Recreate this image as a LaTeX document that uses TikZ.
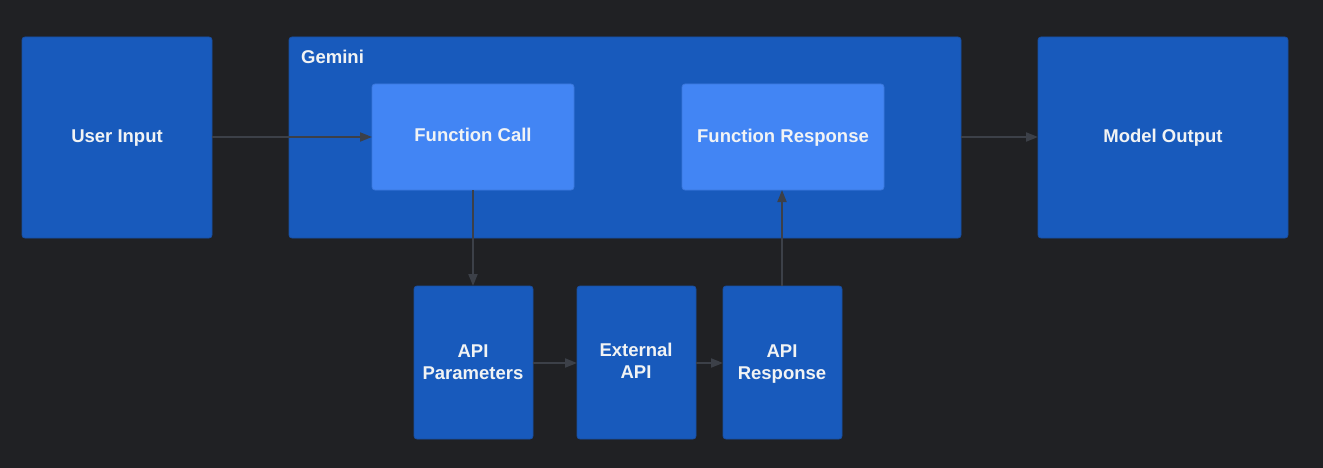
\documentclass[tikz,border=0pt]{standalone}
\usepackage{fontspec}
\setmainfont{Liberation Sans}
\usetikzlibrary{arrows.meta}
\definecolor{bgc}{HTML}{202124}
\definecolor{boxc}{HTML}{185ABC}
\definecolor{boxline}{HTML}{1A4FA0}
\definecolor{lightc}{HTML}{4285F4}
\definecolor{arrc}{HTML}{3C4048}
\definecolor{txtc}{HTML}{F1F3F4}
\tikzset{
  box/.style={fill=boxc, draw=boxline, line width=0.8pt, rounded corners=3pt},
  lbox/.style={fill=lightc, draw=lightc!90!black, line width=0.8pt, rounded corners=3pt},
  lbl/.style={text=txtc, font=\fontsize{18.5}{22}\selectfont\bfseries, align=center, inner sep=0pt},
  conn/.style={draw=arrc, line width=1.8pt, -{Triangle[length=12pt,width=9pt]}},
}
\begin{document}
\begin{tikzpicture}[x=1pt,y=-1pt]
\useasboundingbox (0,0) rectangle (1323,468);
\fill[bgc] (0,0) rectangle (1323,468);
% boxes
\draw[box] (22,37) rectangle (212,238);
\node[lbl] (ui) at (117,138) {User Input};
\coordinate (uiE) at (212,137);
\draw[box] (289,37) rectangle (961,238);
\node[lbl, anchor=west] (gem) at (301,57) {Gemini};
\coordinate (gemE) at (961,137);
\draw[lbox] (372,84) rectangle (574,190);
\node[lbl] (fc) at (473,135) {Function Call};
\coordinate (fcW) at (372,137);
\coordinate (fcS) at (473,190);
\draw[lbox] (682,84) rectangle (884,190);
\node[lbl] (fr) at (783,138) {Function Response};
\coordinate (frS) at (782,190);
\draw[box] (1038,37) rectangle (1288,238);
\node[lbl] (mo) at (1163,138) {Model Output};
\coordinate (moW) at (1038,137);
\draw[box] (414,286) rectangle (533,439);
\node[lbl] (ap) at (473,362) {API\\Parameters};
\coordinate (apN) at (473,286);
\coordinate (apE) at (533,363);
\draw[box] (577,286) rectangle (696,439);
\node[lbl] (ea) at (636,361) {External\\API};
\coordinate (eaW) at (577,363);
\coordinate (eaE) at (696,363);
\draw[box] (723,286) rectangle (842,439);
\node[lbl] (ar) at (782,364) {API\\Response};
\coordinate (arW) at (723,363);
\coordinate (arN) at (782,286);
% connectors
\draw[conn] (uiE) -- (fcW);
\draw[conn] (gemE) -- (moW);
\draw[conn] (fcS) -- (apN);
\draw[conn] (apE) -- (eaW);
\draw[conn] (eaE) -- (arW);
\draw[conn] (arN) -- (frS);
\end{tikzpicture}
\end{document}
